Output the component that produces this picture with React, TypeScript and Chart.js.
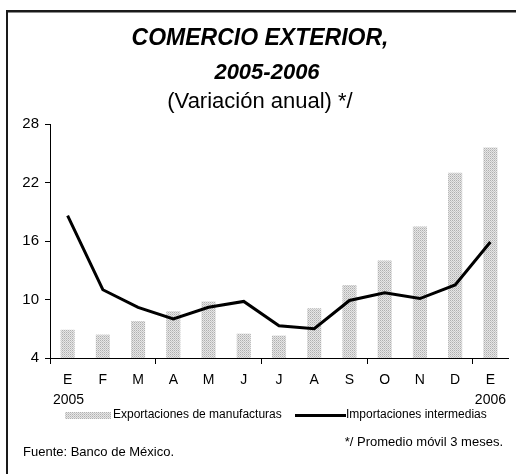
import React, { useEffect, useRef } from "react";
import { Chart, registerables } from "chart.js";

Chart.register(...registerables);

const categories = ["E", "F", "M", "A", "M", "J", "J", "A", "S", "O", "N", "D", "E"];
const exportaciones = [6.9, 6.4, 7.8, 8.8, 9.8, 6.5, 6.3, 9.1, 11.5, 14.0, 17.5, 23.0, 25.6];
const importaciones = [18.6, 11.0, 9.2, 8.0, 9.2, 9.8, 7.3, 7.0, 9.9, 10.7, 10.1, 11.5, 15.9];
const yTicks = [4, 10, 16, 22, 28];
const titleLines = ["COMERCIO EXTERIOR,", "2005-2006"];
const subtitle = "(Variación anual) */";
const yearStart = "2005";
const yearEnd = "2006";
const legendLabels = ["Exportaciones de manufacturas", "Importaciones intermedias"];
const sourceNote = "Fuente: Banco de México.";
const footNote = "*/ Promedio móvil 3 meses.";

const FONT = "'Liberation Sans', Arial, Helvetica, sans-serif";

function makePattern(ctx: CanvasRenderingContext2D): CanvasPattern | string {
  const c = document.createElement("canvas");
  c.width = 2;
  c.height = 2;
  const p = c.getContext("2d");
  if (!p) return "#cccccc";
  p.fillStyle = "#e6e6e6";
  p.fillRect(0, 0, 2, 2);
  p.fillStyle = "#b0b0b0";
  p.fillRect(0, 0, 1, 1);
  p.fillStyle = "#c8c8c8";
  p.fillRect(1, 1, 1, 1);
  return ctx.createPattern(c, "repeat") || "#cccccc";
}

export default function App() {
  const ref = useRef<HTMLCanvasElement | null>(null);

  useEffect(() => {
    const canvas = ref.current;
    if (!canvas) return;
    const ctx0 = canvas.getContext("2d");
    if (!ctx0) return;
    const pattern = makePattern(ctx0);

    const decorations = {
      id: "decorations",
      afterDraw(chart: any) {
        const ctx: CanvasRenderingContext2D = chart.ctx;
        ctx.save();
        // frame
        ctx.fillStyle = "#1a1a1a";
        ctx.fillRect(6, 10, 510, 2.5);
        ctx.fillRect(6, 10, 2, 464);
        ctx.fillStyle = "#000";
        ctx.textAlign = "center";
        ctx.textBaseline = "middle";
        ctx.font = `italic bold 23px ${FONT}`;
        ctx.fillText(titleLines[0], 260, 39);
        ctx.font = `italic bold 22px ${FONT}`;
        ctx.fillText(titleLines[1], 267, 73);
        ctx.font = `22px ${FONT}`;
        ctx.fillText(subtitle, 260, 102);

        // years
        ctx.font = `14px ${FONT}`;
        ctx.textAlign = "left";
        ctx.fillText(yearStart, 53, 400);
        ctx.textAlign = "right";
        ctx.fillText(yearEnd, 506, 400);

        // legend
        ctx.fillStyle = pattern as any;
        ctx.fillRect(65, 412, 46, 7);
        ctx.fillStyle = "#000";
        ctx.font = `12px ${FONT}`;
        ctx.textAlign = "left";
        ctx.fillText(legendLabels[0], 113, 415);
        ctx.fillRect(295, 414, 51, 3);
        ctx.fillText(legendLabels[1], 346, 415);

        // notes
        ctx.font = `13px ${FONT}`;
        ctx.fillText(sourceNote, 23, 452);
        ctx.textAlign = "right";
        ctx.fillText(footNote, 503, 442);
        ctx.restore();
      },
    };

    const chart = new Chart(canvas, {
      type: "bar",
      data: {
        labels: categories,
        datasets: [
          {
            type: "bar",
            label: legendLabels[0],
            data: exportaciones,
            backgroundColor: pattern as any,
            borderWidth: 0,
            barPercentage: 0.4,
            categoryPercentage: 1,
            order: 1,
          },
          {
            type: "line",
            label: legendLabels[1],
            data: importaciones,
            borderColor: "#000",
            borderWidth: 3,
            pointRadius: 0,
            tension: 0,
            fill: false,
            order: 0,
          } as any,
        ],
      },
      options: {
        responsive: false,
        animation: false,
        devicePixelRatio: 1,
        layout: { padding: { left: 0, right: 8, top: 124, bottom: 86 } },
        plugins: {
          legend: { display: false },
          title: { display: false },
          tooltip: { enabled: false },
        },
        scales: {
          x: {
            type: "category",
            offset: true,
            border: { display: true, color: "#000", width: 1 },
            grid: {
              display: true,
              offset: true,
              drawOnChartArea: false,
              drawTicks: true,
              tickLength: 6,
              color: (c: any) => (typeof c.index === "number" && c.index % 3 === 0 ? "#000" : "rgba(0,0,0,0)"),
            },
            ticks: {
              color: "#000",
              font: { family: FONT, size: 14 },
              padding: 8,
              maxRotation: 0,
              autoSkip: false,
            },
            afterFit: (s: any) => {
              s.height = 30;
            },
          },
          y: {
            min: 4,
            max: 28,
            afterBuildTicks: (s: any) => {
              s.ticks = yTicks.map((v) => ({ value: v }));
            },
            border: { display: true, color: "#000", width: 1 },
            grid: {
              display: true,
              drawOnChartArea: false,
              drawTicks: true,
              tickLength: 5,
              color: "#000",
            },
            ticks: {
              color: "#000",
              font: { family: FONT, size: 15 },
              padding: 6,
            },
            afterFit: (s: any) => {
              s.width = 50;
            },
          },
        },
      },
      plugins: [decorations],
    });

    return () => chart.destroy();
  }, []);

  return (
    <div style={{ position: "fixed", left: 0, top: 0, width: 516, height: 474, background: "#fff" }}>
      <canvas ref={ref} width={516} height={474} style={{ display: "block", width: 516, height: 474 }} />
    </div>
  );
}
